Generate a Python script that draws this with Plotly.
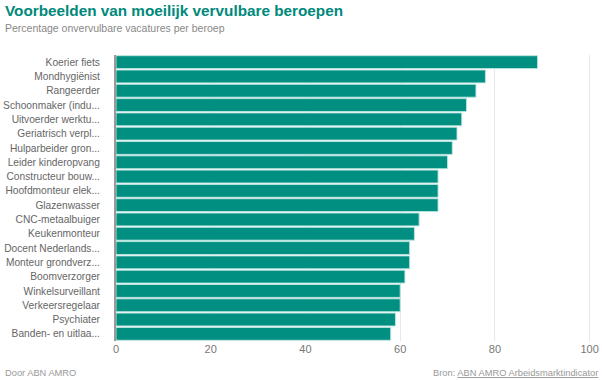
import plotly.graph_objects as go

categories = [
    "Koerier fiets", "Mondhygiënist", "Rangeerder", "Schoonmaker (indu...",
    "Uitvoerder werktu...", "Geriatrisch verpl...", "Hulparbeider gron...",
    "Leider kinderopvang", "Constructeur bouw...", "Hoofdmonteur elek...",
    "Glazenwasser", "CNC-metaalbuiger", "Keukenmonteur", "Docent Nederlands...",
    "Monteur grondverz...", "Boomverzorger", "Winkelsurveillant",
    "Verkeersregelaar", "Psychiater", "Banden- en uitlaa...",
]
values = [89, 78, 76, 74, 73, 72, 71, 70, 68, 68, 68, 64, 63, 62, 62, 61, 60, 60, 59, 58]
x_ticks = [0, 20, 40, 60, 80, 100]

TEAL = "#008f80"
FONT = "Liberation Sans, Arial, sans-serif"

fig = go.Figure(go.Bar(
    x=values, y=categories, orientation="h",
    marker=dict(color=TEAL, line=dict(color="rgba(190,230,225,0.9)", width=1)),
    hoverinfo="x+y",
))

fig.update_layout(
    width=602, height=380,
    margin=dict(l=116, r=10, t=55, b=39, autoexpand=False),
    paper_bgcolor="white", plot_bgcolor="white",
    bargap=0.1,
    showlegend=False,
    font=dict(family=FONT, size=11, color="#666666"),
    xaxis=dict(
        range=[0, 100.5], tickvals=x_ticks, showgrid=True, gridcolor="#e8e8e8",
        gridwidth=1, zeroline=False, showline=False, automargin=False,
        tickfont=dict(size=11, color="#777777"), fixedrange=True,
    ),
    yaxis=dict(
        categoryorder="array", categoryarray=categories, autorange="reversed",
        showline=True, linecolor="#999999", linewidth=2, showgrid=False,
        ticklabelstandoff=12, tickfont=dict(size=10.2, color="#666666"),
        fixedrange=True, automargin=False,
    ),
    annotations=[
        dict(text="<b>Voorbeelden van moeilijk vervulbare beroepen</b>",
             xref="paper", yref="paper", x=-113/476, y=1 + 45/286,
             xanchor="left", yanchor="middle", showarrow=False,
             font=dict(size=15.3, color="#00897b", family=FONT)),
        dict(text="Percentage onvervulbare vacatures per beroep",
             xref="paper", yref="paper", x=-113/476, y=1 + 27/286,
             xanchor="left", yanchor="middle", showarrow=False,
             font=dict(size=10.5, color="#888888", family=FONT)),
        dict(text="Door ABN AMRO",
             xref="paper", yref="paper", x=-113/476, y=-32/286,
             xanchor="left", yanchor="middle", showarrow=False,
             font=dict(size=9.3, color="#999999", family=FONT)),
        dict(text="Bron: <u>ABN AMRO Arbeidsmarktindicator</u>",
             xref="paper", yref="paper", x=1 + 8/476, y=-32/286,
             xanchor="right", yanchor="middle", showarrow=False,
             font=dict(size=9.3, color="#999999", family=FONT)),
    ],
)

fig.write_html(
    "out.html",
    config={"displayModeBar": False},
    post_script="document.body.style.margin='0';document.body.style.overflow='hidden';",
)
